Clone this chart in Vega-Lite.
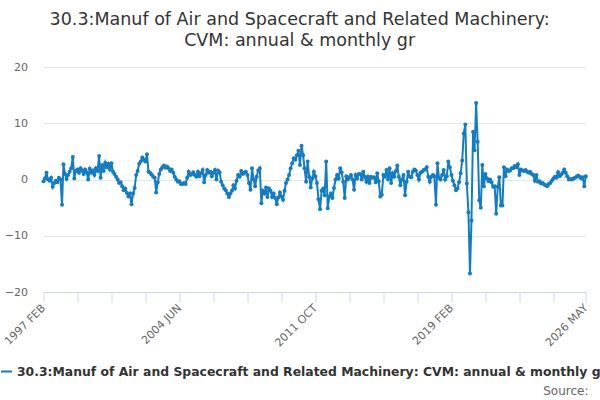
{
  "$schema": "https://vega.github.io/schema/vega-lite/v6.json",
  "width": 542.3,
  "height": 225,
  "autosize": {"type": "none"},
  "padding": {"left": 43.5, "top": 67, "right": 14.2, "bottom": 108},
  "background": "white",
  "title": {
    "text": ["30.3:Manuf of Air and Spacecraft and Related Machinery:", "CVM: annual & monthly gr"],
    "anchor": "middle", "frame": "group", "dx": -15, "offset": 12,
    "fontSize": 17.5, "fontWeight": "normal", "color": "#333333", "font": "DejaVu Sans", "lineHeight": 21
  },
  "data": {
    "values": [
      {"d":"1997-02","v":-0.3},{"d":"1997-03","v":0.2},{"d":"1997-04","v":1.2},{"d":"1997-05","v":0.0},{"d":"1997-06","v":-0.2},{"d":"1997-07","v":0.3},{"d":"1997-08","v":-1.3},{"d":"1997-09","v":-0.6},{"d":"1997-10","v":-0.2},{"d":"1997-11","v":-0.5},{"d":"1997-12","v":0.3},
      {"d":"1998-01","v":0.0},{"d":"1998-02","v":-4.5},{"d":"1998-03","v":2.7},{"d":"1998-04","v":1.0},{"d":"1998-05","v":0.1},{"d":"1998-06","v":0.8},{"d":"1998-07","v":1.4},{"d":"1998-08","v":2.0},{"d":"1998-09","v":4.0},{"d":"1998-10","v":0.2},{"d":"1998-11","v":1.5},{"d":"1998-12","v":1.8},
      {"d":"1999-01","v":1.2},{"d":"1999-02","v":2.0},{"d":"1999-03","v":1.6},{"d":"1999-04","v":1.0},{"d":"1999-05","v":1.8},{"d":"1999-06","v":1.3},{"d":"1999-07","v":0.0},{"d":"1999-08","v":1.9},{"d":"1999-09","v":1.2},{"d":"1999-10","v":1.6},{"d":"1999-11","v":0.8},{"d":"1999-12","v":2.0},
      {"d":"2000-01","v":1.5},{"d":"2000-02","v":4.2},{"d":"2000-03","v":0.3},{"d":"2000-04","v":2.6},{"d":"2000-05","v":1.5},{"d":"2000-06","v":3.0},{"d":"2000-07","v":2.2},{"d":"2000-08","v":2.8},{"d":"2000-09","v":1.8},{"d":"2000-10","v":2.9},{"d":"2000-11","v":1.4},{"d":"2000-12","v":1.0},
      {"d":"2001-01","v":0.5},{"d":"2001-02","v":0.0},{"d":"2001-03","v":-0.6},{"d":"2001-04","v":-0.5},{"d":"2001-05","v":-1.2},{"d":"2001-06","v":-1.9},{"d":"2001-07","v":-1.6},{"d":"2001-08","v":-2.4},{"d":"2001-09","v":-3.0},{"d":"2001-10","v":-2.5},{"d":"2001-11","v":-4.4},{"d":"2001-12","v":-2.5},
      {"d":"2002-01","v":-1.5},{"d":"2002-02","v":0.8},{"d":"2002-03","v":1.5},{"d":"2002-04","v":2.8},{"d":"2002-05","v":3.2},{"d":"2002-06","v":3.9},{"d":"2002-07","v":3.5},{"d":"2002-08","v":3.2},{"d":"2002-09","v":4.5},{"d":"2002-10","v":1.4},{"d":"2002-11","v":1.2},{"d":"2002-12","v":0.9},
      {"d":"2003-01","v":0.5},{"d":"2003-02","v":0.3},{"d":"2003-03","v":-2.3},{"d":"2003-04","v":-0.5},{"d":"2003-05","v":1.0},{"d":"2003-06","v":1.8},{"d":"2003-07","v":2.2},{"d":"2003-08","v":2.5},{"d":"2003-09","v":2.1},{"d":"2003-10","v":2.3},{"d":"2003-11","v":2.0},{"d":"2003-12","v":1.5},
      {"d":"2004-01","v":1.8},{"d":"2004-02","v":1.2},{"d":"2004-03","v":0.5},{"d":"2004-04","v":0.0},{"d":"2004-05","v":-0.4},{"d":"2004-06","v":-0.3},{"d":"2004-07","v":-0.8},{"d":"2004-08","v":-0.8},{"d":"2004-09","v":-0.6},{"d":"2004-10","v":-0.8},{"d":"2004-11","v":0.3},{"d":"2004-12","v":1.4},
      {"d":"2005-01","v":0.8},{"d":"2005-02","v":1.0},{"d":"2005-03","v":1.3},{"d":"2005-04","v":0.8},{"d":"2005-05","v":0.5},{"d":"2005-06","v":1.4},{"d":"2005-07","v":0.6},{"d":"2005-08","v":1.1},{"d":"2005-09","v":1.7},{"d":"2005-10","v":-0.5},{"d":"2005-11","v":0.8},{"d":"2005-12","v":1.7},
      {"d":"2006-01","v":1.2},{"d":"2006-02","v":1.4},{"d":"2006-03","v":0.6},{"d":"2006-04","v":1.2},{"d":"2006-05","v":1.7},{"d":"2006-06","v":0.0},{"d":"2006-07","v":1.6},{"d":"2006-08","v":1.3},{"d":"2006-09","v":-0.4},{"d":"2006-10","v":-1.0},{"d":"2006-11","v":-1.6},{"d":"2006-12","v":-1.9},
      {"d":"2007-01","v":-2.5},{"d":"2007-02","v":-3.1},{"d":"2007-03","v":-2.5},{"d":"2007-04","v":-2.0},{"d":"2007-05","v":-1.0},{"d":"2007-06","v":-1.6},{"d":"2007-07","v":-0.2},{"d":"2007-08","v":0.8},{"d":"2007-09","v":0.5},{"d":"2007-10","v":1.5},{"d":"2007-11","v":1.0},{"d":"2007-12","v":1.2},
      {"d":"2008-01","v":1.4},{"d":"2008-02","v":0.8},{"d":"2008-03","v":-0.6},{"d":"2008-04","v":-1.8},{"d":"2008-05","v":2.0},{"d":"2008-06","v":0.0},{"d":"2008-07","v":-1.2},{"d":"2008-08","v":0.5},{"d":"2008-09","v":1.6},{"d":"2008-10","v":2.0},{"d":"2008-11","v":-4.2},{"d":"2008-12","v":-2.0},
      {"d":"2009-01","v":-2.5},{"d":"2009-02","v":-1.4},{"d":"2009-03","v":-3.1},{"d":"2009-04","v":-1.6},{"d":"2009-05","v":-2.0},{"d":"2009-06","v":-3.1},{"d":"2009-07","v":-2.5},{"d":"2009-08","v":-3.3},{"d":"2009-09","v":-4.4},{"d":"2009-10","v":-3.2},{"d":"2009-11","v":-2.3},{"d":"2009-12","v":-3.0},
      {"d":"2010-01","v":-3.6},{"d":"2010-02","v":-2.0},{"d":"2010-03","v":-0.6},{"d":"2010-04","v":0.0},{"d":"2010-05","v":0.8},{"d":"2010-06","v":2.0},{"d":"2010-07","v":2.9},{"d":"2010-08","v":3.8},{"d":"2010-09","v":3.5},{"d":"2010-10","v":4.3},{"d":"2010-11","v":5.1},{"d":"2010-12","v":2.6},
      {"d":"2011-01","v":6.0},{"d":"2011-02","v":4.3},{"d":"2011-03","v":2.0},{"d":"2011-04","v":-0.4},{"d":"2011-05","v":3.2},{"d":"2011-06","v":0.5},{"d":"2011-07","v":-1.4},{"d":"2011-08","v":0.2},{"d":"2011-09","v":1.4},{"d":"2011-10","v":0.6},{"d":"2011-11","v":-0.6},{"d":"2011-12","v":-3.5},
      {"d":"2012-01","v":-5.3},{"d":"2012-02","v":-2.0},{"d":"2012-03","v":-1.6},{"d":"2012-04","v":-2.8},{"d":"2012-05","v":3.2},{"d":"2012-06","v":-5.1},{"d":"2012-07","v":-3.0},{"d":"2012-08","v":-2.5},{"d":"2012-09","v":-3.3},{"d":"2012-10","v":-1.5},{"d":"2012-11","v":0.0},{"d":"2012-12","v":0.8},
      {"d":"2013-01","v":0.2},{"d":"2013-02","v":2.0},{"d":"2013-03","v":1.3},{"d":"2013-04","v":-0.4},{"d":"2013-05","v":-3.3},{"d":"2013-06","v":0.6},{"d":"2013-07","v":0.0},{"d":"2013-08","v":0.4},{"d":"2013-09","v":0.8},{"d":"2013-10","v":0.0},{"d":"2013-11","v":-1.8},{"d":"2013-12","v":0.8},
      {"d":"2014-01","v":0.2},{"d":"2014-02","v":1.0},{"d":"2014-03","v":1.0},{"d":"2014-04","v":0.0},{"d":"2014-05","v":1.4},{"d":"2014-06","v":0.5},{"d":"2014-07","v":-0.4},{"d":"2014-08","v":0.5},{"d":"2014-09","v":-0.6},{"d":"2014-10","v":0.5},{"d":"2014-11","v":0.3},{"d":"2014-12","v":0.4},
      {"d":"2015-01","v":-0.5},{"d":"2015-02","v":1.1},{"d":"2015-03","v":-0.3},{"d":"2015-04","v":-3.0},{"d":"2015-05","v":-2.7},{"d":"2015-06","v":0.8},{"d":"2015-07","v":0.5},{"d":"2015-08","v":1.7},{"d":"2015-09","v":0.0},{"d":"2015-10","v":2.0},{"d":"2015-11","v":-0.6},{"d":"2015-12","v":1.1},
      {"d":"2016-01","v":0.5},{"d":"2016-02","v":1.5},{"d":"2016-03","v":2.5},{"d":"2016-04","v":0.5},{"d":"2016-05","v":-1.0},{"d":"2016-06","v":0.0},{"d":"2016-07","v":0.8},{"d":"2016-08","v":-2.8},{"d":"2016-09","v":-0.4},{"d":"2016-10","v":1.4},{"d":"2016-11","v":0.5},{"d":"2016-12","v":0.4},
      {"d":"2017-01","v":1.4},{"d":"2017-02","v":1.8},{"d":"2017-03","v":1.6},{"d":"2017-04","v":0.8},{"d":"2017-05","v":0.0},{"d":"2017-06","v":1.2},{"d":"2017-07","v":1.4},{"d":"2017-08","v":1.7},{"d":"2017-09","v":1.8},{"d":"2017-10","v":2.2},{"d":"2017-11","v":0.5},{"d":"2017-12","v":-0.4},
      {"d":"2018-01","v":0.5},{"d":"2018-02","v":0.8},{"d":"2018-03","v":0.6},{"d":"2018-04","v":-4.5},{"d":"2018-05","v":2.9},{"d":"2018-06","v":0.3},{"d":"2018-07","v":0.0},{"d":"2018-08","v":0.8},{"d":"2018-09","v":1.7},{"d":"2018-10","v":0.0},{"d":"2018-11","v":0.6},{"d":"2018-12","v":3.2},
      {"d":"2019-01","v":2.2},{"d":"2019-02","v":0.8},{"d":"2019-03","v":-0.2},{"d":"2019-04","v":-1.0},{"d":"2019-05","v":-1.9},{"d":"2019-06","v":-1.6},{"d":"2019-07","v":-0.5},{"d":"2019-08","v":1.1},{"d":"2019-09","v":3.4},{"d":"2019-10","v":8.2},{"d":"2019-11","v":9.8},{"d":"2019-12","v":-0.7},
      {"d":"2020-01","v":-5.8},{"d":"2020-02","v":-16.7},{"d":"2020-03","v":-7.3},{"d":"2020-04","v":8.5},{"d":"2020-05","v":5.2},{"d":"2020-06","v":13.6},{"d":"2020-07","v":6.7},{"d":"2020-08","v":-3.7},{"d":"2020-09","v":-5.0},{"d":"2020-10","v":2.6},{"d":"2020-11","v":-1.2},{"d":"2020-12","v":1.0},
      {"d":"2021-01","v":0.2},{"d":"2021-02","v":-0.3},{"d":"2021-03","v":0.0},{"d":"2021-04","v":-0.5},{"d":"2021-05","v":-1.3},{"d":"2021-06","v":-1.2},{"d":"2021-07","v":-6.1},{"d":"2021-08","v":-1.3},{"d":"2021-09","v":0.4},{"d":"2021-10","v":-4.6},{"d":"2021-11","v":-4.6},{"d":"2021-12","v":2.2},
      {"d":"2022-01","v":0.6},{"d":"2022-02","v":1.8},{"d":"2022-03","v":1.5},{"d":"2022-04","v":1.6},{"d":"2022-05","v":2.0},{"d":"2022-06","v":2.0},{"d":"2022-07","v":2.4},{"d":"2022-08","v":2.2},{"d":"2022-09","v":2.7},{"d":"2022-10","v":0.8},{"d":"2022-11","v":1.8},{"d":"2022-12","v":1.6},
      {"d":"2023-01","v":1.5},{"d":"2023-02","v":1.7},{"d":"2023-03","v":1.4},{"d":"2023-04","v":1.2},{"d":"2023-05","v":1.4},{"d":"2023-06","v":1.0},{"d":"2023-07","v":0.8},{"d":"2023-08","v":-0.2},{"d":"2023-09","v":0.8},{"d":"2023-10","v":-0.4},{"d":"2023-11","v":-0.3},{"d":"2023-12","v":-0.7},
      {"d":"2024-01","v":-0.6},{"d":"2024-02","v":-0.9},{"d":"2024-03","v":-1.0},{"d":"2024-04","v":-1.2},{"d":"2024-05","v":-0.8},{"d":"2024-06","v":-0.6},{"d":"2024-07","v":-0.2},{"d":"2024-08","v":0.2},{"d":"2024-09","v":0.5},{"d":"2024-10","v":0.3},{"d":"2024-11","v":1.3},{"d":"2024-12","v":0.6},
      {"d":"2025-01","v":0.9},{"d":"2025-02","v":1.2},{"d":"2025-03","v":1.8},{"d":"2025-04","v":1.2},{"d":"2025-05","v":0.6},{"d":"2025-06","v":0.0},{"d":"2025-07","v":0.1},{"d":"2025-08","v":0.0},{"d":"2025-09","v":0.2},{"d":"2025-10","v":0.3},{"d":"2025-11","v":0.5},{"d":"2025-12","v":0.7},
      {"d":"2026-01","v":0.5},{"d":"2026-02","v":0.2},{"d":"2026-03","v":0.4},{"d":"2026-04","v":-1.2},{"d":"2026-05","v":0.6}
    ]
  },
  "mark": {"type": "line", "strokeWidth": 2, "point": {"filled": true, "size": 16}},
  "encoding": {
    "x": {
      "field": "d", "type": "temporal",
      "scale": {"type": "utc", "domain": [{"year": 1997, "month": 2, "date": 1, "utc": true}, {"year": 2026, "month": 5, "date": 1, "utc": true}]},
      "axis": {
        "values": [
          {"year": 1997, "month": 2, "date": 1, "utc": true},
          {"year": 1998, "month": 12, "date": 1, "utc": true},
          {"year": 2000, "month": 10, "date": 1, "utc": true},
          {"year": 2002, "month": 8, "date": 1, "utc": true},
          {"year": 2004, "month": 6, "date": 1, "utc": true},
          {"year": 2006, "month": 4, "date": 1, "utc": true},
          {"year": 2008, "month": 2, "date": 1, "utc": true},
          {"year": 2009, "month": 12, "date": 1, "utc": true},
          {"year": 2011, "month": 10, "date": 1, "utc": true},
          {"year": 2013, "month": 8, "date": 1, "utc": true},
          {"year": 2015, "month": 6, "date": 1, "utc": true},
          {"year": 2017, "month": 4, "date": 1, "utc": true},
          {"year": 2019, "month": 2, "date": 1, "utc": true},
          {"year": 2020, "month": 12, "date": 1, "utc": true},
          {"year": 2022, "month": 10, "date": 1, "utc": true},
          {"year": 2024, "month": 8, "date": 1, "utc": true},
          {"year": 2026, "month": 5, "date": 1, "utc": true}
        ],
        "labelExpr": "indexof(['1997 FEB','2004 JUN','2011 OCT','2019 FEB','2026 MAY'], upper(utcFormat(datum.value, '%Y %b'))) >= 0 ? upper(utcFormat(datum.value, '%Y %b')) : ''",
        "labelAngle": -45, "labelAlign": "right", "labelBaseline": "middle", "labelPadding": 4,
        "labelFontSize": 11, "labelColor": "#666666", "labelFont": "DejaVu Sans", "labelOverlap": false, "labelBound": false, "labelFlush": false,
        "grid": false, "domainColor": "#ccd6eb", "tickColor": "#ccd6eb", "tickSize": 10,
        "title": "Source:", "titleX": 544.5, "titleY": 102, "titleAlign": "right", "titleBaseline": "alphabetic", "titleAnchor": null,
        "titleFontSize": 12, "titleFontWeight": "normal", "titleColor": "#666666", "titleFont": "DejaVu Sans"
      }
    },
    "y": {
      "field": "v", "type": "quantitative",
      "scale": {"domain": [-20, 20], "nice": false},
      "axis": {
        "values": [-20, -10, 0, 10, 20], "title": null, "domain": false, "ticks": false,
        "labelPadding": 16, "labelFontSize": 11, "labelColor": "#666666", "labelFont": "DejaVu Sans",
        "gridColor": "#e6e6e6"
      }
    },
    "color": {
      "datum": "30.3:Manuf of Air and Spacecraft and Related Machinery: CVM: annual & monthly gr",
      "scale": {"range": ["#137dc3"]},
      "legend": {
        "orient": "none", "legendX": -43.5, "legendY": 298, "title": null,
        "symbolType": "stroke", "symbolSize": 120, "symbolStrokeWidth": 2,
        "labelLimit": 1000, "labelFontSize": 12.4, "labelFontWeight": "bold", "labelColor": "#333333", "labelFont": "DejaVu Sans", "labelOffset": 4
      }
    }
  },
  "config": {"view": {"stroke": null}}
}
